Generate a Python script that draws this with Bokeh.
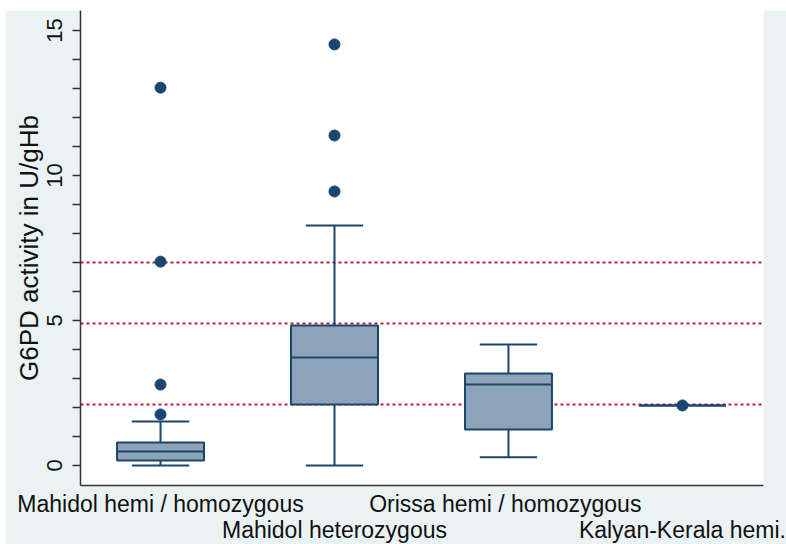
from bokeh.plotting import figure
from bokeh.models import Range1d, FixedTicker, LinearAxis, Spacer
from bokeh.layouts import row, column
from bokeh.embed import file_html
from bokeh.resources import INLINE

# ---- data ----
categories = ["Mahidol hemi / homozygous", "Mahidol heterozygous",
              "Orissa hemi /  homozygous", "Kalyan-Kerala hemi."]
positions = [1, 2, 3, 4]
q1 = [0.17, 2.10, 1.24, 2.07]
median = [0.48, 3.72, 2.79, 2.07]
q3 = [0.79, 4.83, 3.17, 2.07]
whisker_low = [0.0, 0.0, 0.28, 2.07]
whisker_high = [1.52, 8.28, 4.17, 2.07]
outlier_group = [1, 1, 1, 1, 2, 2, 2, 4]
outlier_value = [1.76, 2.79, 7.03, 13.03, 9.45, 11.38, 14.52, 2.07]
reference_lines = [2.10, 4.90, 7.00]
y_ticks = list(range(0, 16))
y_labels = ["0", "5", "10", "15"]
y_title = "G6PD activity in U/gHb"

NAVY = "#1a476f"
BOXFILL = "#8ca3b8"
REDLINE = "#c01a3e"
BG = "#eaf2f3"
FONT = "Liberation Sans"
box_w = 0.5
cap_w = 0.33

p = figure(frame_width=683, frame_height=475,
           x_range=Range1d(0.54, 4.466), y_range=Range1d(-0.69, 15.69),
           output_backend="svg", toolbar_location=None,
           min_border_left=75, min_border_right=23,
           min_border_top=0, min_border_bottom=59)
p.background_fill_color = "white"
p.border_fill_color = BG
p.outline_line_color = None
p.xgrid.visible = False
p.ygrid.visible = False

# reference lines (under boxes)
p.hspan(y=reference_lines, line_color=REDLINE, line_width=2, line_dash="3 3")

# whiskers
p.segment(x0=positions, y0=q3, x1=positions, y1=whisker_high, line_color=NAVY, line_width=2)
p.segment(x0=positions, y0=q1, x1=positions, y1=whisker_low, line_color=NAVY, line_width=2)
cap_l = [x - cap_w / 2 for x in positions]
cap_r = [x + cap_w / 2 for x in positions]
p.segment(x0=cap_l[:3], y0=whisker_high[:3], x1=cap_r[:3], y1=whisker_high[:3], line_color=NAVY, line_width=2)
p.segment(x0=cap_l[:3], y0=whisker_low[:3], x1=cap_r[:3], y1=whisker_low[:3], line_color=NAVY, line_width=2)

# boxes
p.vbar(x=positions, width=box_w, bottom=q1, top=q3,
       fill_color=BOXFILL, line_color=NAVY, line_width=2)
p.segment(x0=[x - box_w / 2 for x in positions], y0=median,
          x1=[x + box_w / 2 for x in positions], y1=median,
          line_color=NAVY, line_width=2)

# outside values
p.scatter(x=outlier_group, y=outlier_value, size=11, fill_color=NAVY, line_color=NAVY)

# y axis
ya = p.yaxis[0]
ya.ticker = FixedTicker(ticks=y_ticks)
ya.major_label_overrides = {t: (str(t) if str(t) in y_labels else "") for t in y_ticks}
ya.minor_tick_line_color = None
ya.major_tick_out = 8
ya.major_tick_in = 0
ya.major_tick_line_color = "#333333"
ya.major_tick_line_width = 1.5
ya.axis_line_color = "#333333"
ya.axis_line_width = 1.5
ya.major_label_orientation = "vertical"
ya.major_label_standoff = 10
ya.major_label_text_font = FONT
ya.major_label_text_font_size = "22px"
ya.major_label_text_color = "#111111"
ya.axis_label = y_title
ya.axis_label_standoff = 1
ya.axis_label_text_font = FONT
ya.axis_label_text_font_size = "26px"
ya.axis_label_text_font_style = "normal"
ya.axis_label_text_color = "#111111"

# x axis, row 1
xa = p.xaxis[0]
xa.ticker = FixedTicker(ticks=positions[0::2])
xa.major_label_overrides = {positions[i]: categories[i] for i in (0, 2)}
xa.major_tick_line_color = None
xa.minor_tick_line_color = None
xa.major_tick_out = 0
xa.axis_line_color = "#333333"
xa.axis_line_width = 1.5
xa.major_label_standoff = 5
xa.major_label_text_font = FONT
xa.major_label_text_font_size = "23px"
xa.major_label_text_color = "#111111"

# x axis, row 2
xb = LinearAxis(ticker=FixedTicker(ticks=positions[1::2]),
                major_label_overrides={positions[i]: categories[i] for i in (1, 3)})
xb.axis_line_color = None
xb.major_tick_line_color = None
xb.minor_tick_line_color = None
xb.major_tick_out = 0
xb.major_label_standoff = -3
xb.major_label_text_font = FONT
xb.major_label_text_font_size = "23px"
xb.major_label_text_color = "#111111"
p.add_layout(xb, "below")

layout = row(Spacer(width=5), column(Spacer(height=10), p))
open("out.html", "w").write(file_html(layout, INLINE))
